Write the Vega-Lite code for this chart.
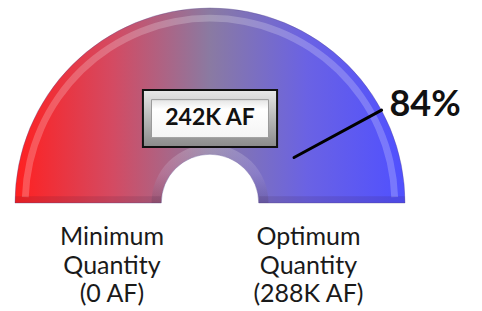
{
  "$schema": "https://vega.github.io/schema/vega-lite/v6.json",
  "width": 482,
  "height": 311,
  "autosize": {"type": "fit", "contains": "padding"},
  "padding": 0,
  "background": "white",
  "config": {"view": {"stroke": null}},
  "datasets": {
    "face": [{"t0": 0, "t1": 1, "r0": 0.25, "r1": 1.0, "cx": 0, "cy": 0}],
    "rim": [{"t0": 0.01, "t1": 0.99, "r0": 0.93, "r1": 0.965, "cx": 0, "cy": 0}],
    "holebevel": [{"t0": 0, "t1": 1, "r0": 0.25, "r1": 0.3, "cx": 0, "cy": 0}],
    "base": [{"x": -1.0, "x2": -0.25, "y": 0.035, "y2": 0}, {"x": 0.25, "x2": 1.0, "y": 0.035, "y2": 0}],
    "needle": [{"x": 0.431, "y": 0.233, "x2": 0.88, "y2": 0.476}],
    "box": [{"x": -0.344, "x2": 0.344, "y": 0.579, "y2": 0.287}],
    "boxinner": [{"x": -0.3, "x2": 0.3, "y": 0.53, "y2": 0.335}],
    "boxtext": [{"x": 0, "y": 0.435, "label": "242K AF"}],
    "pct": [{"x": 0.92, "y": 0.505, "label": "84%"}],
    "labels": [
      {"x": -0.503, "y": -0.175, "label": "Minimum"},
      {"x": -0.503, "y": -0.322, "label": "Quantity"},
      {"x": -0.503, "y": -0.469, "label": "(0 AF)"},
      {"x": 0.505, "y": -0.175, "label": "Optimum"},
      {"x": 0.505, "y": -0.322, "label": "Quantity"},
      {"x": 0.505, "y": -0.469, "label": "(288K AF)"}
    ]
  },
  "layer": [
    {
      "data": {"name": "face"},
      "mark": {
        "type": "arc",
        "fill": {
          "gradient": "linear", "x1": 0, "y1": 0, "x2": 1, "y2": 0,
          "stops": [
            {"offset": 0, "color": "#ff2020"},
            {"offset": 0.25, "color": "#d44a62"},
            {"offset": 0.5, "color": "#8a7aa2"},
            {"offset": 0.75, "color": "#6a62e4"},
            {"offset": 1, "color": "#5050ff"}
          ]
        },
        "stroke": "#5a4a90",
        "strokeOpacity": 0.35,
        "strokeWidth": 1
      },
      "encoding": {
        "x": {"field": "cx", "type": "quantitative", "scale": {"domain": [-1.077, 1.395], "nice": false, "zero": false}, "axis": null},
        "y": {"field": "cy", "type": "quantitative", "scale": {"domain": [-0.554, 1.041], "nice": false, "zero": false}, "axis": null},
        "theta": {"field": "t0", "type": "quantitative", "stack": null, "scale": {"domain": [0, 1], "range": [-1.5708, 1.5708]}},
        "theta2": {"field": "t1"},
        "radius": {"field": "r1", "type": "quantitative", "scale": {"type": "linear", "domain": [0, 1], "range": [0, 195], "zero": true}},
        "radius2": {"field": "r0"}
      }
    },
    {
      "data": {"name": "rim"},
      "mark": {"type": "arc", "fill": "white", "opacity": 0.22},
      "encoding": {
        "x": {"field": "cx", "type": "quantitative", "axis": null},
        "y": {"field": "cy", "type": "quantitative", "axis": null},
        "theta": {"field": "t0", "type": "quantitative", "stack": null},
        "theta2": {"field": "t1"},
        "radius": {"field": "r1", "type": "quantitative"},
        "radius2": {"field": "r0"}
      }
    },
    {
      "data": {"name": "holebevel"},
      "mark": {
        "type": "arc",
        "fill": {
          "gradient": "linear", "x1": 0, "y1": 0, "x2": 0, "y2": 1,
          "stops": [
            {"offset": 0, "color": "#ffffff"},
            {"offset": 0.5, "color": "#c8b8e0"},
            {"offset": 1, "color": "#403050"}
          ]
        },
        "opacity": 0.2
      },
      "encoding": {
        "x": {"field": "cx", "type": "quantitative", "axis": null},
        "y": {"field": "cy", "type": "quantitative", "axis": null},
        "theta": {"field": "t0", "type": "quantitative", "stack": null},
        "theta2": {"field": "t1"},
        "radius": {"field": "r1", "type": "quantitative"},
        "radius2": {"field": "r0"}
      }
    },
    {
      "data": {"name": "base"},
      "mark": {"type": "rect", "fill": "#301030", "opacity": 0.12},
      "encoding": {
        "x": {"field": "x", "type": "quantitative", "axis": null},
        "y": {"field": "y", "type": "quantitative", "axis": null},
        "x2": {"field": "x2"},
        "y2": {"field": "y2"}
      }
    },
    {
      "data": {"name": "needle"},
      "mark": {"type": "rule", "color": "black", "strokeWidth": 3, "strokeCap": "round"},
      "encoding": {
        "x": {"field": "x", "type": "quantitative", "axis": null},
        "y": {"field": "y", "type": "quantitative", "axis": null},
        "x2": {"field": "x2"},
        "y2": {"field": "y2"}
      }
    },
    {
      "data": {"name": "box"},
      "mark": {
        "type": "rect",
        "fill": {
          "gradient": "linear", "x1": 0, "y1": 0, "x2": 0, "y2": 1,
          "stops": [
            {"offset": 0, "color": "#e8e8e8"},
            {"offset": 0.5, "color": "#b8b8b8"},
            {"offset": 1, "color": "#8a8a8a"}
          ]
        },
        "stroke": "#111111",
        "strokeWidth": 2
      },
      "encoding": {
        "x": {"field": "x", "type": "quantitative", "axis": null},
        "y": {"field": "y", "type": "quantitative", "axis": null},
        "x2": {"field": "x2"},
        "y2": {"field": "y2"}
      }
    },
    {
      "data": {"name": "boxinner"},
      "mark": {
        "type": "rect",
        "fill": {
          "gradient": "linear", "x1": 0, "y1": 0, "x2": 0, "y2": 1,
          "stops": [
            {"offset": 0, "color": "#e4e4e4"},
            {"offset": 0.25, "color": "#ffffff"},
            {"offset": 1, "color": "#f4f4f4"}
          ]
        },
        "stroke": "#9a9a9a",
        "strokeWidth": 1
      },
      "encoding": {
        "x": {"field": "x", "type": "quantitative", "axis": null},
        "y": {"field": "y", "type": "quantitative", "axis": null},
        "x2": {"field": "x2"},
        "y2": {"field": "y2"}
      }
    },
    {
      "data": {"name": "boxtext"},
      "mark": {"type": "text", "font": "Lato", "fontWeight": "bold", "fontSize": 23, "color": "#111111", "align": "center", "baseline": "middle"},
      "encoding": {
        "x": {"field": "x", "type": "quantitative", "axis": null},
        "y": {"field": "y", "type": "quantitative", "axis": null},
        "text": {"field": "label"}
      }
    },
    {
      "data": {"name": "pct"},
      "mark": {"type": "text", "font": "Lato", "fontWeight": "bold", "fontSize": 36, "color": "#111111", "align": "left", "baseline": "middle"},
      "encoding": {
        "x": {"field": "x", "type": "quantitative", "axis": null},
        "y": {"field": "y", "type": "quantitative", "axis": null},
        "text": {"field": "label"}
      }
    },
    {
      "data": {"name": "labels"},
      "mark": {"type": "text", "font": "Lato", "fontSize": 25, "color": "#1a1a1a", "align": "center", "baseline": "middle"},
      "encoding": {
        "x": {"field": "x", "type": "quantitative", "axis": null},
        "y": {"field": "y", "type": "quantitative", "axis": null},
        "text": {"field": "label"}
      }
    }
  ]
}
